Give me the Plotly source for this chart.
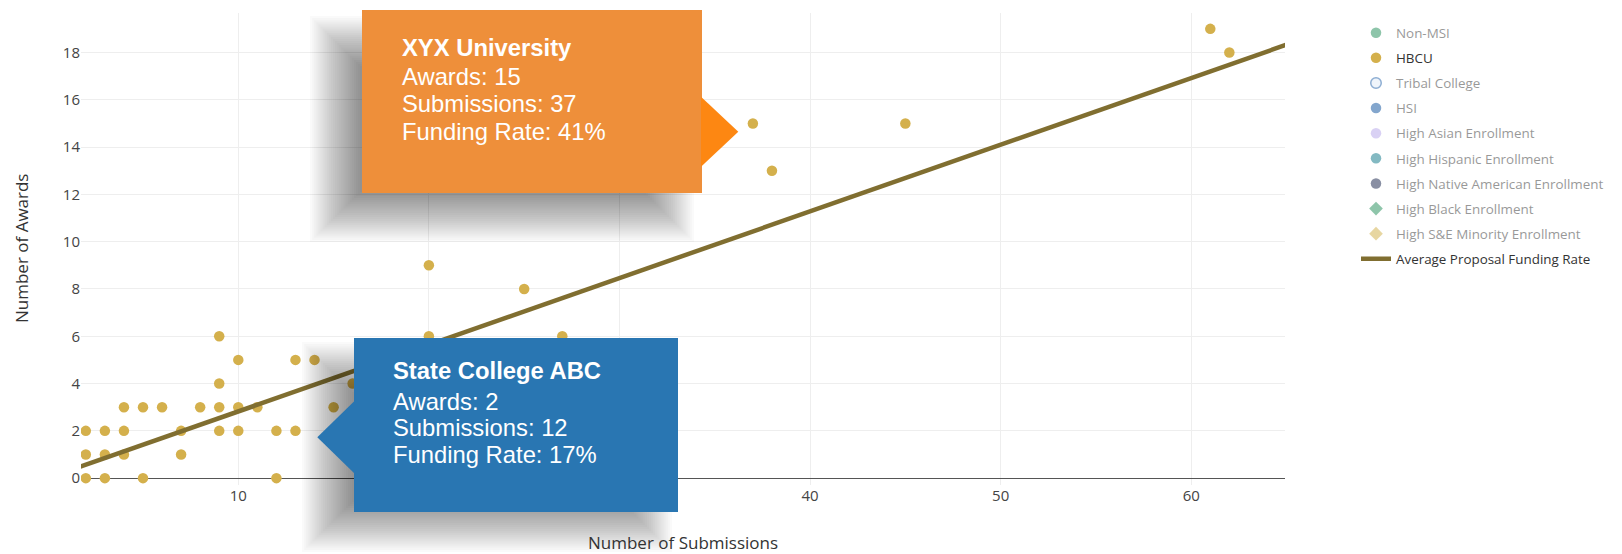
import plotly.graph_objects as go

# ---------------- data ----------------
hbcu_submissions = [2, 3, 4, 4, 5, 6, 2, 3, 4, 2, 3, 5, 7, 7, 8, 9, 9, 9, 9, 10, 10, 10, 11, 12, 12,
                    13, 13, 14, 15, 16, 20, 20, 25, 27, 37, 38, 45, 61, 62]
hbcu_awards = [2, 2, 2, 3, 3, 3, 1, 1, 1, 0, 0, 0, 2, 1, 3, 6, 4, 3, 2, 5, 3, 2, 3, 2, 0,
               5, 2, 5, 3, 4, 9, 6, 8, 6, 15, 13, 15, 19, 18]

avg_line_submissions = [0, 65]
avg_line_awards = [0, 18.33]

legend_order = ["Non-MSI", "HBCU", "Tribal College", "HSI", "High Asian Enrollment",
                "High Hispanic Enrollment", "High Native American Enrollment",
                "High Black Enrollment", "High S&E Minority Enrollment"]
cat_colors = {"Non-MSI": "#1f8d57", "HBCU": "#d4b04c", "Tribal College": "#e2ecf8",
              "HSI": "#0a4f9c", "High Asian Enrollment": "#b5a5eb",
              "High Hispanic Enrollment": "#0a7587", "High Native American Enrollment": "#15224a",
              "High Black Enrollment": "#1f8d57", "High S&E Minority Enrollment": "#d1af45"}
cat_symbols = {"High Black Enrollment": "diamond", "High S&E Minority Enrollment": "diamond"}

callout1_lines = ["XYX University", "Awards: 15", "Submissions: 37", "Funding Rate: 41%"]
callout2_lines = ["State College ABC", "Awards: 2", "Submissions: 12", "Funding Rate: 17%"]

x_title = "Number of Submissions"
y_title = "Number of Awards"

# ---------------- layout geometry ----------------
W, H = 1622, 554
PL, PR, PT, PB = 81, 1285, 13, 485


def px(x):
    return (x - PL) / (PR - PL)


def py(y):
    return (PB - y) / (PB - PT)


fig = go.Figure()

for name in legend_order:
    if name == "HBCU":
        fig.add_trace(go.Scatter(
            x=hbcu_submissions, y=hbcu_awards, mode="markers", name=name,
            legendgroup=name,
            marker=dict(color=cat_colors[name], size=10.5, line=dict(width=0)),
        ))
    else:
        line = dict(width=0)
        if name == "Tribal College":
            line = dict(width=1.5, color="#1f5fa8")
        fig.add_trace(go.Scatter(
            x=[None], y=[None], mode="markers", name=name, legendgroup=name,
            visible="legendonly",
            marker=dict(color=cat_colors[name], size=10.5,
                        symbol=cat_symbols.get(name, "circle"), line=line),
        ))

fig.add_trace(go.Scatter(
    x=avg_line_submissions, y=avg_line_awards, mode="lines",
    name="Average Proposal Funding Rate", legendgroup="avg",
    line=dict(color="#806e30", width=4.5),
))

# ---------------- callouts ----------------
shapes = []


def add_shadow(x0, y0, x1, y1, blur=52, n=26, op=0.021):
    for k in range(n):
        e = -blur / 2 + blur * k / (n - 1)
        shapes.append(dict(type="rect", xref="paper", yref="paper", layer="above",
                           x0=px(x0 - e), x1=px(x1 + e), y0=py(y1 + e), y1=py(y0 - e),
                           fillcolor="black", opacity=op, line=dict(width=0)))


def add_rect(x0, y0, x1, y1, color):
    shapes.append(dict(type="rect", xref="paper", yref="paper", layer="above",
                       x0=px(x0), x1=px(x1), y0=py(y1), y1=py(y0),
                       fillcolor=color, line=dict(width=0)))


def add_tri(pts, color):
    path = "M " + " L ".join(f"{px(a):.5f},{py(b):.5f}" for a, b in pts) + " Z"
    shapes.append(dict(type="path", xref="paper", yref="paper", layer="above",
                       path=path, fillcolor=color, line=dict(width=0)))


add_shadow(336, 42, 668, 216)
add_shadow(328, 368, 646, 526)
# orange callout
add_rect(362, 10, 702, 193, "#ee8f3a")
add_tri([(701, 96.7), (738.3, 131.7), (701, 166.7)], "#fd8712")
# blue callout
add_rect(354, 338, 678, 512, "#2976b2")
add_tri([(355, 400.6), (317.3, 437.3), (355, 474)], "#2976b2")

annotations = []


def add_lines(lines, x, ys):
    for j, (t, yy) in enumerate(zip(lines, ys)):
        annotations.append(dict(
            text=f"<b>{t}</b>" if j == 0 else t, xref="paper", yref="paper",
            x=px(x), y=py(yy), xanchor="left", yanchor="middle", showarrow=False,
            font=dict(family="Liberation Sans, Arial", size=23.8, color="white")))


add_lines(callout1_lines, 400, [47.7, 77, 103.7, 131.3])
add_lines(callout2_lines, 391, [370.3, 401.2, 427.2, 454.5])

annotations.append(dict(text=x_title, xref="paper", yref="paper", x=px(682.5), y=py(542.5),
                        xanchor="center", yanchor="middle", showarrow=False,
                        font=dict(family="Open Sans", size=17, color="#333")))
annotations.append(dict(text=y_title, xref="paper", yref="paper", x=px(21), y=py(249),
                        xanchor="center", yanchor="middle", showarrow=False, textangle=-90,
                        font=dict(family="Open Sans", size=17, color="#333")))

fig.update_layout(
    width=W, height=H,
    margin=dict(l=PL, r=W - PR, t=PT, b=H - PB, autoexpand=False),
    paper_bgcolor="white", plot_bgcolor="white",
    font=dict(family="Open Sans", color="#444"),
    showlegend=True,
    legend=dict(x=px(1356), xanchor="left", y=py(17.5), yanchor="top",
                font=dict(family="Open Sans", size=13.4, color="#333"),
                tracegroupgap=4.7, bgcolor="rgba(0,0,0,0)"),
    xaxis=dict(range=[1.747, 64.92], dtick=10, tick0=0, showgrid=True,
               gridcolor="#eeeeee", zeroline=False, showline=False, ticks="",
               tickfont=dict(family="Open Sans", size=15, color="#444")),
    yaxis=dict(range=[-0.29, 19.67], dtick=2, tick0=0, showgrid=True,
               gridcolor="#eeeeee", zeroline=True, zerolinecolor="#555",
               zerolinewidth=1, showline=False, ticks="",
               tickfont=dict(family="Open Sans", size=15, color="#444")),
    shapes=shapes,
    annotations=annotations,
)

fig.write_html("out.html", config={"displayModeBar": False},
               post_script="document.body.style.margin='0px';")
